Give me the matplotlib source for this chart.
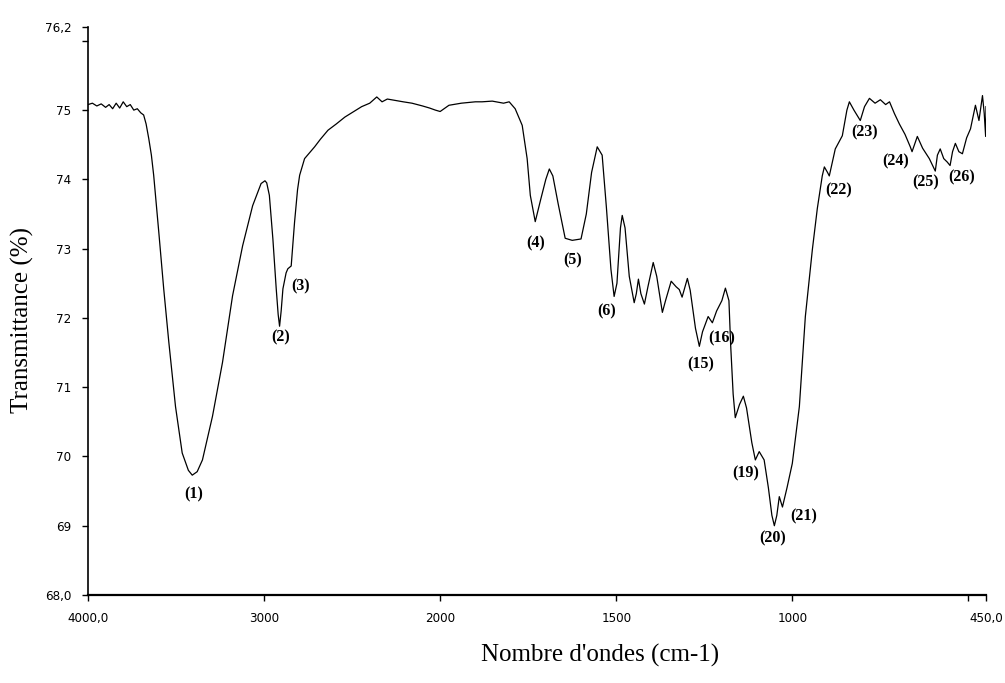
import numpy as np
import matplotlib
matplotlib.use("Agg")
import matplotlib.pyplot as plt

# spectrum: wavenumber (cm-1) and transmittance (%)
wavenumber = [
    4000, 3975, 3950, 3925, 3900, 3880, 3860, 3840, 3820, 3800, 3780, 3760, 3740, 3720,
    3700, 3684, 3670, 3655, 3640, 3627, 3598, 3570, 3541, 3503, 3465, 3430, 3408, 3380,
    3350, 3293, 3236, 3179, 3122, 3065, 3017, 2995, 2985, 2970, 2950, 2931, 2920, 2912,
    2903, 2893, 2875, 2865, 2846, 2827, 2810, 2798, 2770, 2713, 2680, 2637, 2590, 2541,
    2490, 2446, 2400, 2360, 2330, 2300, 2255, 2210, 2160, 2100, 2060, 2027, 2000, 1975,
    1940, 1900, 1881, 1852, 1820, 1804, 1787, 1767, 1753, 1744, 1730, 1715, 1700, 1690,
    1680, 1665, 1645, 1625, 1600, 1585, 1570, 1554, 1540, 1528, 1515, 1506, 1498, 1488,
    1483, 1475, 1463, 1449, 1443, 1437, 1430, 1420, 1410, 1395, 1385, 1369, 1360, 1344,
    1330, 1321, 1313, 1298, 1290, 1275, 1264, 1255, 1239, 1227, 1215, 1200, 1190, 1180,
    1175, 1168, 1162, 1150, 1139, 1130, 1115, 1105, 1094, 1080, 1068, 1058, 1051, 1044,
    1037, 1028, 1015, 1000, 980, 963, 943, 929, 915, 909, 900, 895, 878, 858,
    845, 838, 825, 807, 795, 781, 765, 750, 735, 724, 710, 696, 680, 665,
    660, 645, 630, 611, 594, 588, 580, 570, 560, 552, 545, 537, 527, 517,
    505, 494, 487, 480, 470, 460, 455, 451, 450,
]
transmittance = [
    75.08, 75.10, 75.06, 75.09, 75.04, 75.08, 75.02, 75.10, 75.03, 75.12, 75.05, 75.08, 75.00, 75.02,
    74.96, 74.93, 74.80, 74.59, 74.35, 74.06, 73.24, 72.42, 71.65, 70.72, 70.05, 69.80, 69.73, 69.78,
    69.95, 70.58, 71.36, 72.32, 73.04, 73.62, 73.94, 73.98, 73.95, 73.77, 73.14, 72.42, 72.05, 71.88,
    72.10, 72.42, 72.65, 72.71, 72.75, 73.38, 73.85, 74.06, 74.30, 74.47, 74.58, 74.71, 74.80, 74.90,
    74.98, 75.05, 75.10, 75.19, 75.12, 75.16, 75.14, 75.12, 75.10, 75.06, 75.03, 75.00, 74.98, 75.07,
    75.10, 75.12, 75.12, 75.13, 75.10, 75.12, 75.02, 74.78, 74.30, 73.77, 73.39, 73.70, 74.00, 74.15,
    74.05, 73.65, 73.15, 73.12, 73.14, 73.50, 74.10, 74.47, 74.35, 73.60, 72.70, 72.31, 72.50, 73.30,
    73.48, 73.30, 72.60, 72.22, 72.35, 72.56, 72.35, 72.20, 72.45, 72.80, 72.60, 72.08, 72.25, 72.53,
    72.45, 72.41, 72.30, 72.57, 72.40, 71.85, 71.59, 71.80, 72.02, 71.93, 72.10, 72.25, 72.43, 72.25,
    71.60, 70.90, 70.56, 70.75, 70.87, 70.70, 70.20, 69.95, 70.07, 69.95, 69.55, 69.15, 69.00, 69.15,
    69.42, 69.27, 69.55, 69.90, 70.72, 72.02, 72.99, 73.58, 74.05, 74.18, 74.10, 74.05, 74.44, 74.63,
    75.00, 75.12, 75.00, 74.85, 75.05, 75.17, 75.10, 75.15, 75.08, 75.12, 74.95, 74.80, 74.65, 74.47,
    74.40, 74.62, 74.45, 74.30, 74.12, 74.35, 74.44, 74.30, 74.25, 74.20, 74.40, 74.52, 74.40, 74.37,
    74.60, 74.73, 74.90, 75.07, 74.85, 75.21, 74.95, 74.62, 75.05,
]

# peak labels and where their text sits
peak_names = ["(1)", "(2)", "(3)", "(4)", "(5)", "(6)", "(15)", "(16)", "(19)",
              "(20)", "(21)", "(22)", "(23)", "(24)", "(25)", "(26)"]
peak_x = [3400, 2906, 2793, 1729, 1625, 1526, 1260, 1201, 1133,
          1057, 969, 868, 795, 707, 622, 518]
peak_y = [69.45, 71.72, 72.46, 73.07, 72.83, 72.10, 71.33, 71.70, 69.75,
          68.82, 69.13, 73.84, 74.68, 74.26, 73.95, 74.03]

x_ticks = [4000, 3000, 2000, 1500, 1000, 500, 450]
x_tick_labels = ["4000,0", "3000", "2000", "1500", "1000", "", "450,0"]
y_ticks = [68, 69, 70, 71, 72, 73, 74, 75, 76, 76.2]
y_tick_labels = ["68,0", "69", "70", "71", "72", "73", "74", "75", "", "76,2"]


# instrument axis: scale doubles below 2000 cm-1 (increasing map, axis inverted later)
def forward(w):
    w = np.asarray(w, dtype=float)
    return np.where(w >= 2000, w - 4000, -2000 - (2000 - w) * 2)


def inverse(u):
    u = np.asarray(u, dtype=float)
    return np.where(u >= -2000, u + 4000, 2000 - (-2000 - u) / 2)


fig = plt.figure(figsize=(10.05, 6.83), dpi=100)
ax = fig.add_axes([88 / 1005, 1 - 595 / 683, 898 / 1005, 568 / 683])

ax.plot(wavenumber, transmittance, color="black", linewidth=0.9)

ax.set_xscale("function", functions=(forward, inverse))
ax.set_xlim(4000, 450)
ax.set_ylim(68, 76.2)

ax.set_xticks(x_ticks)
ax.set_xticklabels(x_tick_labels, family="DejaVu Sans", fontstretch="condensed", fontsize=9.5)
ax.set_yticks(y_ticks)
ax.set_yticklabels(y_tick_labels, family="DejaVu Sans", fontstretch="condensed", fontsize=9.5)
ax.minorticks_off()
ax.tick_params(direction="out", length=4, width=1, colors="black", pad=8)

ax.spines["top"].set_visible(False)
ax.spines["right"].set_visible(False)
ax.spines["left"].set_linewidth(1.2)
ax.spines["bottom"].set_linewidth(1.6)

for name, px, py in zip(peak_names, peak_x, peak_y):
    ax.text(px, py, name, ha="center", va="center", family="Liberation Serif",
            fontweight="bold", fontsize=11.5)

fig.text(600 / 1005, 1 - 655 / 683, "Nombre d'ondes (cm-1)", ha="center", va="center",
         family="Liberation Serif", fontsize=18)
fig.text(22 / 1005, 1 - 320 / 683, "Transmittance (%)", ha="center", va="center",
         rotation=90, family="Liberation Serif", fontsize=18)

fig.savefig("out.png", dpi=100)
